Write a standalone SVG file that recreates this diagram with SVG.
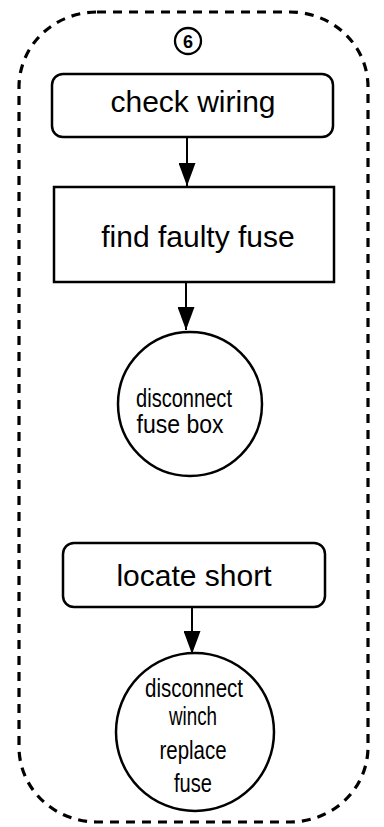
<svg xmlns="http://www.w3.org/2000/svg" width="384" height="827" viewBox="0 0 384 827">
  <style>
    .shape { fill: #fff; stroke: #000; stroke-width: 2.5; }
    .label { font-family: "Liberation Sans", Arial, sans-serif; fill: #000; text-anchor: middle; }
    .big { font-size: 30px; }
    .small { font-size: 25px; }
    .link { stroke: #000; stroke-width: 2; fill: none; marker-end: url(#head); }
  </style>
  <defs>
    <marker id="head" viewBox="0 0 23 17" refX="23" refY="8.5" markerWidth="23" markerHeight="17" markerUnits="userSpaceOnUse" orient="auto">
      <path d="M0,0 L23,8.5 L0,17 Z" fill="#000"/>
    </marker>
  </defs>

  <rect width="384" height="827" fill="#fff"/>

  <!-- dashed enclosure -->
  <g id="group6">
    <rect x="19" y="12" width="349" height="810" rx="78" ry="75" fill="none" stroke="#000" stroke-width="3.2" stroke-dasharray="9 7"/>
    <circle cx="188" cy="41" r="13" fill="none" stroke="#000" stroke-width="2.3"/>
    <text class="label" x="188" y="48" font-size="18" font-weight="bold">6</text>
  </g>

  <g id="check-wiring">
    <rect class="shape" x="52" y="74" width="281" height="63" rx="11"/>
    <text class="label big" x="193" y="112">check wiring</text>
  </g>

  <g id="find-faulty-fuse">
    <rect class="shape" x="54" y="187" width="280" height="95"/>
    <text class="label big" x="198" y="247">find faulty fuse</text>
  </g>

  <g id="disconnect-fuse-box">
    <circle class="shape" cx="190" cy="404" r="72"/>
    <text class="label small" x="184" y="407" textLength="96" lengthAdjust="spacingAndGlyphs">disconnect</text>
    <text class="label small" x="180" y="433" textLength="87" lengthAdjust="spacingAndGlyphs">fuse box</text>
  </g>

  <g id="locate-short">
    <rect class="shape" x="63" y="543" width="262" height="64" rx="11"/>
    <text class="label big" x="194" y="586">locate short</text>
  </g>

  <g id="disconnect-winch">
    <circle class="shape" cx="195" cy="732" r="79"/>
    <text class="label small" x="194" y="697" textLength="98" lengthAdjust="spacingAndGlyphs">disconnect</text>
    <text class="label small" x="193" y="725" textLength="48" lengthAdjust="spacingAndGlyphs">winch</text>
    <text class="label small" x="193" y="759" textLength="67" lengthAdjust="spacingAndGlyphs">replace</text>
    <text class="label small" x="193" y="792" textLength="38" lengthAdjust="spacingAndGlyphs">fuse</text>
  </g>

  <g id="connectors">
    <line class="link" x1="187" y1="137" x2="187" y2="186"/>
    <line class="link" x1="186" y1="283" x2="186" y2="330"/>
    <line class="link" x1="192" y1="607" x2="192" y2="654"/>
  </g>
</svg>
